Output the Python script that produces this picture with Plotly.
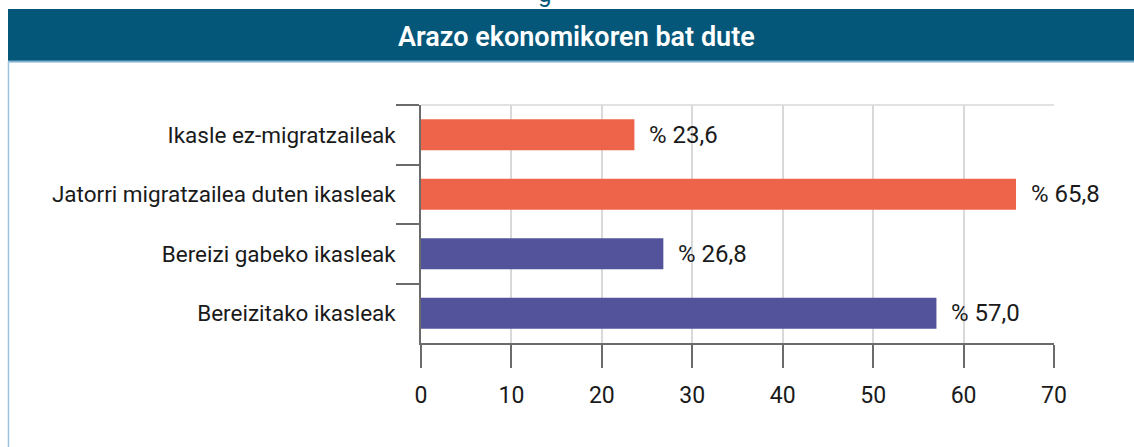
import plotly.graph_objects as go

categories = [
    "Ikasle ez-migratzaileak",
    "Jatorri migratzailea duten ikasleak",
    "Bereizi gabeko ikasleak",
    "Bereizitako ikasleak",
]
values = [23.6, 65.8, 26.8, 57.0]
bar_colors = ["#EE644A", "#EE644A", "#52539A", "#52539A"]
title_text = "Arazo ekonomikoren bat dute"
x_ticks = [0, 10, 20, 30, 40, 50, 60, 70]

W, H = 1134, 447
L, R, T, B = 421, 80, 105, 104
pw, ph = W - L - R, H - T - B


def px_x(px):
    return (px - L) / pw


def px_y(py):
    return (H - B - py) / ph


labels = ["% " + f"{v:.1f}".replace(".", ",") for v in values]

FONT = "Roboto"

fig = go.Figure()
fig.add_trace(go.Bar(
    y=categories, x=values, orientation="h",
    marker=dict(color=bar_colors, line=dict(width=0)),
    width=0.52, showlegend=False, hoverinfo="skip",
))

for c, v, t in zip(categories, values, labels):
    fig.add_annotation(x=v, y=c, xref="x", yref="y", text=t, showarrow=False,
                       xanchor="left", yanchor="middle", xshift=13,
                       font=dict(family=FONT, size=24, color="#1a1a1a"))

# header band
fig.add_shape(type="rect", xref="paper", yref="paper",
              x0=px_x(8), x1=px_x(W + 5), y0=px_y(61), y1=px_y(9),
              fillcolor="#05577A", line=dict(width=0), layer="above")
fig.add_shape(type="line", xref="paper", yref="paper",
              x0=px_x(8), x1=px_x(W + 5), y0=px_y(61.5), y1=px_y(61.5),
              line=dict(color="#7FAFCF", width=2))
fig.add_shape(type="line", xref="paper", yref="paper",
              x0=px_x(8.5), x1=px_x(8.5), y0=px_y(61), y1=px_y(H + 5),
              line=dict(color="#9CC2DC", width=1.5))
# top plot border
fig.add_shape(type="line", xref="paper", yref="paper",
              x0=0, x1=1, y0=1, y1=1,
              line=dict(color="#D9D9D9", width=1.5))

fig.add_annotation(x=px_x(576), y=px_y(37), xref="paper", yref="paper",
                   text=title_text, showarrow=False, xanchor="center", yanchor="middle",
                   font=dict(family=FONT, size=27, color="white", weight=600))
fig.add_annotation(x=px_x(544), y=px_y(10), xref="paper", yref="paper",
                   text="g", showarrow=False, xanchor="center", yanchor="bottom",
                   font=dict(family=FONT, size=24, color="#05577A"))

fig.update_layout(
    width=W, height=H,
    margin=dict(l=L, r=R, t=T, b=B, autoexpand=False),
    paper_bgcolor="white", plot_bgcolor="white",
    bargap=0.48,
)
fig.update_xaxes(
    range=[0, 70], tickvals=x_ticks, ticks="outside", ticklen=23, tickwidth=1.5,
    tickcolor="#6b6b6b", showline=True, linecolor="#6b6b6b", linewidth=1.5,
    showgrid=True, gridcolor="#D9D9D9", gridwidth=1.5, zeroline=False,
    tickfont=dict(family=FONT, size=23, color="#1a1a1a"), ticklabelstandoff=8,
    fixedrange=True,
)
fig.update_yaxes(
    categoryorder="array", categoryarray=categories, autorange="reversed",
    ticks="outside", tickson="boundaries", ticklen=23, tickwidth=1.5,
    tickcolor="#6b6b6b", showline=True, linecolor="#6b6b6b", linewidth=1.5,
    showgrid=False, zeroline=False, ticklabelstandoff=19,
    tickfont=dict(family=FONT, size=22.5, color="#1a1a1a"), fixedrange=True,
)

fig.write_html("out.html", config={"displayModeBar": False},
               post_script="document.body.style.margin='0';")
